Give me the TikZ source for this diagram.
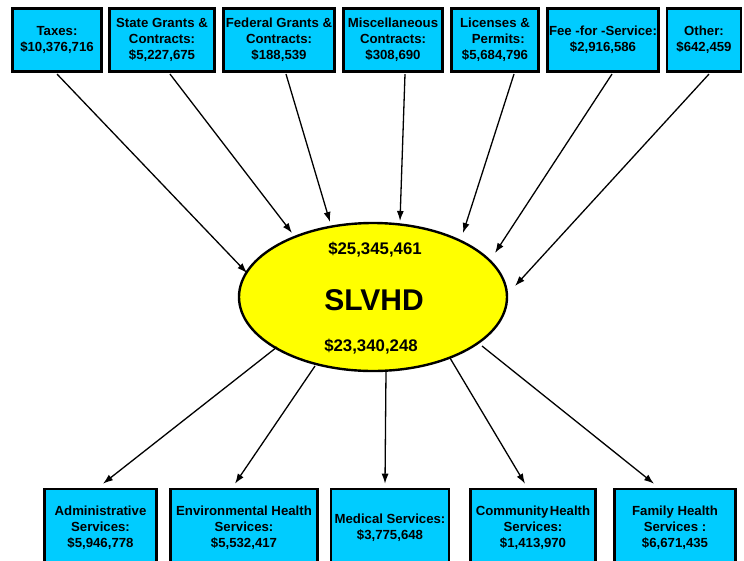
\documentclass[tikz,border=0pt]{standalone}
\usepackage{fontspec}
\setmainfont{Liberation Sans}
\usetikzlibrary{arrows.meta,calc,shapes.geometric}
\definecolor{boxcyan}{HTML}{00CCFF}
\definecolor{ellyellow}{HTML}{FFFF00}
\tikzset{
  srcbox/.style={draw=black, line width=2.6pt, fill=boxcyan, inner sep=0pt, align=center,
    font=\fontsize{13.2}{16}\selectfont\bfseries, minimum height=63.5pt},
  dstbox/.style={srcbox, minimum height=78pt},
  flow/.style={line width=1.3pt, -{Latex[length=10pt,width=7pt]}},
  hub/.style={draw=black, line width=2.4pt, fill=ellyellow, ellipse, inner sep=0pt,
    minimum width=268pt, minimum height=148pt},
  amt/.style={font=\fontsize{16.8}{18}\selectfont\bfseries, inner sep=0pt},
}
\begin{document}
\begin{tikzpicture}[x=1pt,y=-1pt]
\useasboundingbox (0,0) rectangle (744,560);
\clip (0,0) rectangle (744,560);
\begin{pgfinterruptboundingbox}
% ellipse
\node[hub] (hub) at (373,297) {};
\node[amt] (inamt) at (375,250) {\$25,345,461};
\node[font=\fontsize{30}{32}\selectfont\bfseries, inner sep=0pt] (title) at (374,300) {SLVHD};
\node[amt] (outamt) at (371,347) {\$23,340,248};
% top boxes
\node[srcbox, minimum width=89.5pt]  (taxes)   at (57,40)  {Taxes:\\\$10,376,716};
\node[srcbox, minimum width=105.5pt] (state)   at (162,40) {State Grants \&\\Contracts:\\\$5,227,675};
\node[srcbox, minimum width=111.5pt] (federal) at (279,40) {Federal Grants \&\\Contracts:\\\$188,539};
\node[srcbox, minimum width=99.5pt]  (misc)    at (393,40) {Miscellaneous\\Contracts:\\\$308,690};
\node[srcbox, minimum width=87.5pt]  (lic)     at (495,40) {Licenses \&\\\hspace*{0.5em}Permits:\\\$5,684,796};
\node[srcbox, minimum width=111.5pt] (fee)     at (603,40) {Fee -for -Service:\\\$2,916,586};
\node[srcbox, minimum width=74pt]    (other)   at (704,40) {Other:\\\$642,459};
% bottom boxes
\node[dstbox, minimum width=112.5pt] (admin) at (100.5,528) {Administrative\\Services:\\\$5,946,778};
\node[dstbox, minimum width=147.5pt] (env)   at (244,528)   {Environmental Health\\Services:\\\$5,532,417};
\node[dstbox, minimum width=118pt]   (med)   at (390,528)   {Medical Services:\\\$3,775,648};
\node[dstbox, minimum width=125.5pt] (comm)  at (533,528)   {Community\hspace{0.1em}Health\\Services:\\\$1,413,970};
\node[dstbox, minimum width=121.5pt] (fam)   at (675,528)   {Family Health\\Services :\\\$6,671,435};
% arrow end points on/near the ellipse
\coordinate (t1) at (247,273);
\coordinate (t2) at (292,233);
\coordinate (t3) at (330,222);
\coordinate (t4) at (400,221);
\coordinate (t5) at (463,233);
\coordinate (t6) at (495,253);
\coordinate (t7) at (515,286);
\coordinate (s1) at (277,347);
\coordinate (s2) at (315,366);
\coordinate (s3) at (386,371);
\coordinate (s4) at (450,358);
\coordinate (s5) at (482,346);
% incoming
\draw[flow] ([yshift=-1pt]taxes.south) -- (t1);
\draw[flow] ([xshift=8pt,yshift=-1pt]state.south) -- (t2);
\draw[flow] ([xshift=7pt,yshift=-1pt]federal.south) -- (t3);
\draw[flow] ([xshift=12pt,yshift=-1pt]misc.south) -- (t4);
\draw[flow] ([xshift=19pt,yshift=-1pt]lic.south) -- (t5);
\draw[flow] ([xshift=9pt,yshift=-1pt]fee.south) -- (t6);
\draw[flow] ([xshift=5pt,yshift=-1pt]other.south) -- (t7);
% outgoing
\draw[flow] (s1) -- ([xshift=2.5pt,yshift=4pt]admin.north);
\draw[flow] (s2) -- ([xshift=-9pt,yshift=4pt]env.north);
\draw[flow] (s3) -- ([xshift=-5pt,yshift=4pt]med.north);
\draw[flow] (s4) -- ([xshift=-8pt,yshift=4pt]comm.north);
\draw[flow] (s5) -- ([xshift=-21pt,yshift=4pt]fam.north);
\end{pgfinterruptboundingbox}
\end{tikzpicture}
\end{document}
